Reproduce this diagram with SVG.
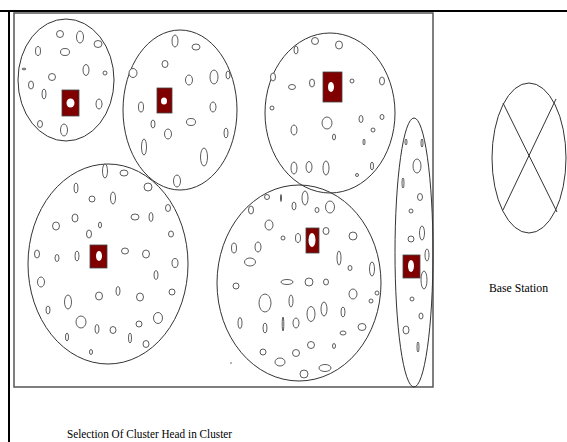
<svg xmlns="http://www.w3.org/2000/svg" width="567" height="442" viewBox="0 0 567 442">
<style>
.frame{stroke:#000;stroke-width:2;fill:none}
.inner{fill:none;stroke:#555;stroke-width:1.5}
.c{fill:none;stroke:#333;stroke-width:1}
.n ellipse{fill:#fff;stroke:#333;stroke-width:0.8}
.ch{fill:#800000;stroke:#444;stroke-width:0.8}
.d{fill:#fff;stroke:none}
.t{font-family:"Liberation Serif",serif;font-size:12px;fill:#000}
</style>
<rect width="567" height="442" fill="#fff"/>
<line class="frame" x1="0" y1="11" x2="567" y2="11"/>
<line class="frame" x1="9" y1="11" x2="9" y2="442"/>
<rect class="inner" x="14" y="13" width="419" height="374"/>

<g id="cluster1">
<ellipse class="c" cx="66" cy="80" rx="48" ry="61"/>
<g class="n">
<ellipse cx="60" cy="34" rx="3.5" ry="3.5"/><ellipse cx="80" cy="37" rx="3.5" ry="6"/>
<ellipse cx="98" cy="44" rx="4" ry="3.5"/><ellipse cx="65" cy="52" rx="4.5" ry="3.5"/>
<ellipse cx="38" cy="51" rx="2.5" ry="4.5"/><ellipse cx="86" cy="70" rx="3" ry="5.5"/>
<ellipse cx="105" cy="73" rx="2" ry="2"/><ellipse cx="52" cy="77" rx="3.5" ry="3.5"/>
<ellipse cx="24" cy="69" rx="2" ry="0.8"/><ellipse cx="31" cy="85" rx="2.5" ry="4"/>
<ellipse cx="44" cy="94" rx="2" ry="5"/><ellipse cx="99" cy="104" rx="3" ry="5"/>
<ellipse cx="40" cy="124" rx="2.5" ry="3.5"/><ellipse cx="64" cy="130" rx="3.5" ry="6"/>
</g>
<rect class="ch" x="62" y="90" width="17" height="26"/>
<ellipse class="d" cx="70.5" cy="103" rx="4" ry="4.5"/>
</g>

<g id="cluster2">
<ellipse class="c" cx="180" cy="110" rx="57" ry="80"/>
<g class="n">
<ellipse cx="175" cy="41" rx="3" ry="6"/><ellipse cx="196" cy="47" rx="4" ry="3"/>
<ellipse cx="165" cy="64" rx="3" ry="3.5"/><ellipse cx="133" cy="73" rx="4" ry="4.5"/>
<ellipse cx="189" cy="80" rx="3.5" ry="5"/><ellipse cx="214" cy="77" rx="4" ry="7"/>
<ellipse cx="228" cy="75" rx="2" ry="4"/><ellipse cx="141" cy="107" rx="2.5" ry="5"/>
<ellipse cx="213" cy="107" rx="3" ry="5"/><ellipse cx="153" cy="124" rx="2" ry="4"/>
<ellipse cx="191" cy="122" rx="4.5" ry="3.5"/><ellipse cx="168" cy="134" rx="3.5" ry="5"/>
<ellipse cx="226" cy="133" rx="2" ry="5"/><ellipse cx="144" cy="147" rx="2.5" ry="8"/>
<ellipse cx="204" cy="157" rx="3.5" ry="9"/><ellipse cx="177" cy="181" rx="3.5" ry="6"/>
</g>
<rect class="ch" x="157" y="88" width="15" height="25"/>
<ellipse class="d" cx="164" cy="101" rx="3" ry="3.5"/>
</g>

<g id="cluster3">
<ellipse class="c" cx="330" cy="113" rx="65" ry="80"/>
<g class="n">
<ellipse cx="315" cy="41" rx="3.5" ry="3.5"/><ellipse cx="339" cy="45" rx="3.5" ry="4"/>
<ellipse cx="296" cy="50" rx="2" ry="4"/><ellipse cx="273" cy="77" rx="2.5" ry="4"/>
<ellipse cx="292" cy="87" rx="3.5" ry="2.5"/><ellipse cx="312" cy="83" rx="2.5" ry="4"/>
<ellipse cx="352" cy="81" rx="2" ry="2"/><ellipse cx="382" cy="81" rx="2.5" ry="4"/>
<ellipse cx="272" cy="108" rx="2" ry="2"/><ellipse cx="327" cy="123" rx="5" ry="6"/>
<ellipse cx="361" cy="119" rx="2" ry="3.5"/><ellipse cx="382" cy="117" rx="2" ry="2.5"/>
<ellipse cx="294" cy="130" rx="3" ry="5"/><ellipse cx="373" cy="130" rx="2" ry="2"/>
<ellipse cx="334" cy="137" rx="1.5" ry="3"/><ellipse cx="364" cy="142" rx="1" ry="3"/>
<ellipse cx="294" cy="168" rx="3" ry="6"/><ellipse cx="309" cy="167" rx="3" ry="5.5"/>
<ellipse cx="326" cy="168" rx="3" ry="7"/><ellipse cx="357" cy="175" rx="1.5" ry="1.5"/>
<ellipse cx="372" cy="166" rx="1.5" ry="4"/>
</g>
<rect class="ch" x="323" y="72" width="19" height="30"/>
<ellipse class="d" cx="331" cy="87" rx="3" ry="5"/>
</g>

<g id="cluster4">
<ellipse class="c" cx="108" cy="264" rx="80" ry="100"/>
<g class="n">
<ellipse cx="105" cy="171" rx="2.5" ry="7"/><ellipse cx="124" cy="173" rx="4" ry="3"/>
<ellipse cx="125" cy="174" rx="0" ry="0"/><ellipse cx="148" cy="187" rx="4" ry="4"/>
<ellipse cx="76" cy="188" rx="2" ry="5"/><ellipse cx="92" cy="199" rx="3" ry="3"/>
<ellipse cx="113" cy="198" rx="2.5" ry="6"/><ellipse cx="168" cy="208" rx="2.5" ry="3.5"/>
<ellipse cx="75" cy="218" rx="3" ry="4"/><ellipse cx="135" cy="217" rx="4" ry="3"/>
<ellipse cx="151" cy="217" rx="2" ry="4.5"/><ellipse cx="56" cy="226" rx="3.5" ry="4"/>
<ellipse cx="100" cy="225" rx="1.5" ry="3"/><ellipse cx="89" cy="234" rx="2.5" ry="4"/>
<ellipse cx="171" cy="234" rx="2.5" ry="3"/><ellipse cx="37" cy="254" rx="2.5" ry="4"/>
<ellipse cx="57" cy="258" rx="2" ry="3.5"/><ellipse cx="77" cy="256" rx="2" ry="5"/>
<ellipse cx="125" cy="251" rx="3.5" ry="3"/><ellipse cx="146" cy="254" rx="3.5" ry="4"/>
<ellipse cx="175" cy="263" rx="3" ry="4.5"/><ellipse cx="156" cy="275" rx="2" ry="4.5"/>
<ellipse cx="41" cy="282" rx="3.5" ry="5"/><ellipse cx="118" cy="291" rx="2" ry="4.5"/>
<ellipse cx="99" cy="296" rx="3.5" ry="4"/><ellipse cx="140" cy="297" rx="3.5" ry="4"/>
<ellipse cx="172" cy="292" rx="3" ry="3"/><ellipse cx="68" cy="302" rx="3.5" ry="7"/>
<ellipse cx="48" cy="310" rx="2" ry="4"/><ellipse cx="81" cy="322" rx="5" ry="6"/>
<ellipse cx="158" cy="318" rx="4.5" ry="5.5"/><ellipse cx="97" cy="329" rx="2" ry="4.5"/>
<ellipse cx="113" cy="330" rx="3" ry="3.5"/><ellipse cx="139" cy="324" rx="3" ry="3"/>
<ellipse cx="67" cy="337" rx="1.5" ry="4"/><ellipse cx="130" cy="338" rx="1.5" ry="5"/>
<ellipse cx="146" cy="344" rx="3" ry="3.5"/><ellipse cx="91" cy="352" rx="1.5" ry="2.5"/>
</g>
<rect class="ch" x="90" y="245" width="17" height="23"/>
<ellipse class="d" cx="99" cy="256" rx="3" ry="5"/>
</g>

<g id="cluster5">
<ellipse class="c" cx="299" cy="283" rx="82" ry="98"/>
<g class="n">
<ellipse cx="281" cy="198" rx="0.5" ry="3.5"/><ellipse cx="294" cy="206" rx="2" ry="4"/>
<ellipse cx="305" cy="198" rx="3" ry="7"/><ellipse cx="317" cy="210" rx="2" ry="2.5"/>
<ellipse cx="330" cy="207" rx="4.5" ry="6"/><ellipse cx="267" cy="197" rx="2.5" ry="2.5"/>
<ellipse cx="251" cy="210" rx="2.5" ry="4"/><ellipse cx="269" cy="225" rx="4" ry="5"/>
<ellipse cx="283" cy="238" rx="2" ry="2"/><ellipse cx="298" cy="238" rx="2.5" ry="4.5"/>
<ellipse cx="326" cy="231" rx="3" ry="3.5"/><ellipse cx="353" cy="236" rx="4" ry="4"/>
<ellipse cx="234" cy="248" rx="2.5" ry="5"/><ellipse cx="258" cy="247" rx="3" ry="5"/>
<ellipse cx="250" cy="262" rx="5.5" ry="4"/><ellipse cx="339" cy="258" rx="2" ry="7"/>
<ellipse cx="350" cy="268" rx="2" ry="2.5"/><ellipse cx="372" cy="269" rx="2.5" ry="7"/>
<ellipse cx="236" cy="286" rx="3" ry="3"/><ellipse cx="287" cy="282" rx="6" ry="2.5"/>
<ellipse cx="309" cy="282" rx="4" ry="4"/><ellipse cx="326" cy="282" rx="2.5" ry="3"/>
<ellipse cx="353" cy="294" rx="4" ry="5"/><ellipse cx="377" cy="293" rx="2" ry="2"/>
<ellipse cx="265" cy="303" rx="6" ry="9"/><ellipse cx="291" cy="301" rx="2" ry="6"/>
<ellipse cx="311" cy="314" rx="4" ry="7.5"/><ellipse cx="324" cy="309" rx="3" ry="7"/>
<ellipse cx="343" cy="312" rx="2" ry="5"/><ellipse cx="371" cy="301" rx="2" ry="2"/>
<ellipse cx="240" cy="323" rx="2" ry="5.5"/><ellipse cx="265" cy="328" rx="2" ry="5"/>
<ellipse cx="283" cy="324" rx="0.8" ry="7"/><ellipse cx="296" cy="323" rx="3" ry="5"/>
<ellipse cx="362" cy="327" rx="4" ry="3.5"/><ellipse cx="343" cy="333" rx="3" ry="2"/>
<ellipse cx="311" cy="345" rx="3.5" ry="3.5"/><ellipse cx="334" cy="346" rx="1.5" ry="2.5"/>
<ellipse cx="263" cy="352" rx="3" ry="3"/><ellipse cx="296" cy="353" rx="3.5" ry="3.5"/>
<ellipse cx="280" cy="362" rx="5" ry="4"/><ellipse cx="325" cy="368" rx="6" ry="3.5"/>
<ellipse cx="304" cy="374" rx="4" ry="4"/>
</g>
<rect class="ch" x="306" y="228" width="13" height="25"/>
<ellipse class="d" cx="312" cy="240" rx="3.5" ry="7"/>
</g>
<circle cx="231" cy="363" r="0.8" fill="#555"/>

<g id="cluster6">
<ellipse class="c" cx="414" cy="252.5" rx="19" ry="134.5"/>
<g class="n">
<ellipse cx="406" cy="142" rx="1" ry="3"/><ellipse cx="422" cy="143" rx="1" ry="4"/>
<ellipse cx="417" cy="166" rx="4" ry="7"/><ellipse cx="403" cy="183" rx="1" ry="5"/>
<ellipse cx="420" cy="197" rx="2.5" ry="3.5"/><ellipse cx="411" cy="211" rx="2" ry="2"/>
<ellipse cx="422" cy="233" rx="2.5" ry="7"/><ellipse cx="411" cy="239" rx="3" ry="3"/>
<ellipse cx="427" cy="255" rx="2" ry="6"/><ellipse cx="424" cy="280" rx="3" ry="9"/>
<ellipse cx="412" cy="299" rx="2" ry="2"/><ellipse cx="421" cy="316" rx="2" ry="3"/>
<ellipse cx="406" cy="330" rx="3" ry="4"/><ellipse cx="418" cy="347" rx="1" ry="5"/>
</g>
<rect class="ch" x="403" y="255" width="17" height="23"/>
<ellipse class="d" cx="411" cy="266" rx="3" ry="6"/>
</g>

<g id="base-station">
<ellipse class="c" cx="529" cy="158" rx="37" ry="75"/>
<line class="c" x1="503" y1="103" x2="557" y2="212"/>
<line class="c" x1="556" y1="99" x2="503" y2="210"/>
<text class="t" x="489" y="292" textLength="59" lengthAdjust="spacingAndGlyphs">Base Station</text>
</g>

<text class="t" x="67" y="438" textLength="165" lengthAdjust="spacingAndGlyphs">Selection Of Cluster Head in Cluster</text>
</svg>
